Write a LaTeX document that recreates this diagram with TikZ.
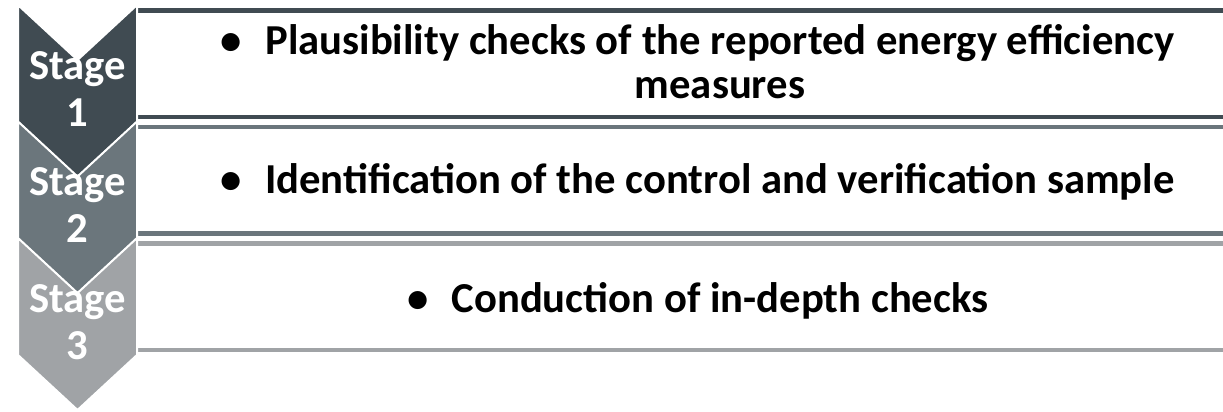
\documentclass[tikz,border=0pt]{standalone}
\usepackage{fontspec}
\setmainfont{Carlito}
\definecolor{stageA}{RGB}{64,75,82}
\definecolor{stageB}{RGB}{107,118,124}
\definecolor{stageC}{RGB}{160,163,166}
\tikzset{
  chevron/.style={fill=#1, draw=white, line width=1.5pt, line join=miter},
  listbox/.style={draw=#1, line width=3.4pt},
  stagelabel/.style={text=white, font=\bfseries\fontsize{32}{35}\selectfont, align=center, anchor=base},
  itemtext/.style={font=\bfseries\fontsize{32}{33}\selectfont, align=center, anchor=base}
}
\newcommand{\itembullet}{\llap{\textbullet\hspace{17.5pt}}}
\begin{document}
\begin{tikzpicture}[x=0.75pt,y=-0.75pt]
    \useasboundingbox (0,0) rectangle (1223,411);
    \clip (0,0) rectangle (1223,411);
    \newcommand{\gap}{116.5}
    % boxes (left side hidden behind the chevrons)
    \draw[listbox=stageA] (137,10.5) -- (1240,10.5) (137,117) -- (1240,117);
    \draw[listbox=stageB] (137,10.5+\gap) -- (1240,10.5+\gap) (137,117+\gap) -- (1240,117+\gap);
    \draw[listbox=stageC] (137,10.5+\gap+\gap) -- (1240,10.5+\gap+\gap) (137,117+\gap+\gap) -- (1240,117+\gap+\gap);
    % chevrons
    \draw[chevron=stageA] (18,5) -- (77.5,60) -- (137,5) -- (137,122) -- (77.5,177) -- (18,122) -- cycle;
    \draw[chevron=stageB] (18,5+\gap) -- (77.5,60+\gap) -- (137,5+\gap) -- (137,122+\gap) -- (77.5,177+\gap) -- (18,122+\gap) -- cycle;
    \draw[chevron=stageC] (18,5+\gap+\gap) -- (77.5,60+\gap+\gap) -- (137,5+\gap+\gap) -- (137,122+\gap+\gap) -- (77.5,177+\gap+\gap) -- (18,122+\gap+\gap) -- cycle;
    \node[stagelabel] (stage1) at (77.5,126) {Stage\\1};
    \node[stagelabel] (stage2) at (77.5,126+\gap) {Stage\\2};
    \node[stagelabel] (stage3) at (77.5,126+\gap+\gap) {Stage\\3};
    \node[itemtext] (item1) at (720,98) {\itembullet Plausibility checks of the reported energy efficiency\\measures};
    \node[itemtext] (item2) at (720,193) {\itembullet Identification of the control and verification sample};
    \node[itemtext] (item3) at (720,312) {\itembullet Conduction of in-depth checks};
\end{tikzpicture}
\end{document}
